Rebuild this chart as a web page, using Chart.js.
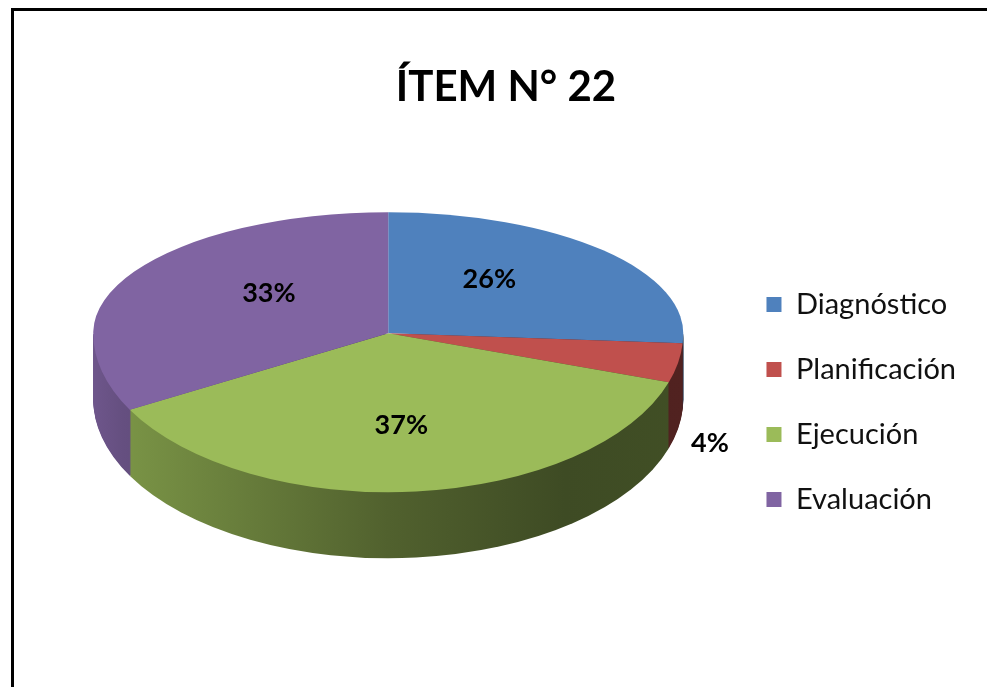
<!DOCTYPE html>
<html>
<head>
<meta charset="utf-8">
<script src="https://cdn.jsdelivr.net/npm/chart.js@4.4.1/dist/chart.umd.min.js"></script>
<style>
  html, body { margin: 0; padding: 0; background: #fff; overflow: hidden; width: 987px; height: 687px; }
  #frame { position: absolute; left: 11px; top: 8px; width: 1000px; height: 700px; border-top: 3px solid #000; border-left: 3px solid #000; }
  #wrap { position: absolute; left: 14px; top: 11px; width: 968px; height: 676px; }
</style>
</head>
<body>
<div id="frame"></div>
<div id="wrap"><canvas id="c"></canvas></div>
<script>
// ---- data ----
const titleText = 'ÍTEM N° 22';
const categories = ['Diagnóstico', 'Planificación', 'Ejecución', 'Evaluación'];
const values = [26, 4, 37, 33];
const valueLabels = ['26%', '4%', '37%', '33%'];
const colors = ['#4F81BD', '#C0504D', '#9BBB59', '#8064A2'];

// ---- 3D look (style constants) ----
const RX = 295;       // horizontal half-width of the top face
const RY_TOP = 121;   // far half height (perspective)
const RY_BOT = 159;   // near half height
const DEPTH = 66;     // thickness of the pie
const SIDE_STOPS = [[0, 0.86], [0.05, 0.79], [0.5, 0.52], [0.8, 0.40], [1, 0.42]];

function hexToRgb(h) {
  const n = parseInt(h.slice(1), 16);
  return [(n >> 16) & 255, (n >> 8) & 255, n & 255];
}
function shade(h, f) {
  const [r, g, b] = hexToRgb(h);
  return `rgb(${Math.round(r * f)},${Math.round(g * f)},${Math.round(b * f)})`;
}

const pie3d = {
  id: 'pie3d',
  beforeDatasetsDraw(chart) {
    const meta = chart.getDatasetMeta(0);
    const arcs = meta.data;
    if (!arcs.length) return false;
    const ctx = chart.ctx;
    const cx = arcs[0].x, cy = arcs[0].y, r = arcs[0].outerRadius;
    const sx = RX / r;
    const W = chart.width, H = chart.height;
    const vy = Math.round(cy);

    // side gradients (defined in the scaled user space)
    const grads = colors.map(c => {
      const g = ctx.createLinearGradient(cx - r, 0, cx + r, 0);
      SIDE_STOPS.forEach(([t, f]) => g.addColorStop(t, shade(c, f)));
      return g;
    });
    const sideArcs = arcs.map((a, i) => {
      const t = Object.create(a);
      t.options = Object.assign({}, a.options, { backgroundColor: grads[i], borderWidth: 0 });
      return t;
    });

    // sides: stack of near-half layers
    for (let d = DEPTH; d >= 1; d--) {
      ctx.save();
      ctx.beginPath();
      ctx.rect(0, vy + d, W, H);
      ctx.clip();
      ctx.translate(cx, cy + d);
      ctx.scale(sx, RY_BOT / r);
      ctx.translate(-cx, -cy);
      sideArcs.forEach(a => a.draw(ctx));
      ctx.restore();
    }

    // top face: far half and near half
    [[0, vy, RY_TOP], [vy, H, RY_BOT]].forEach(([y0, y1, ry]) => {
      ctx.save();
      ctx.beginPath();
      ctx.rect(0, y0, W, y1 - y0);
      ctx.clip();
      ctx.translate(cx, cy);
      ctx.scale(sx, ry / r);
      ctx.translate(-cx, -cy);
      arcs.forEach(a => a.draw(ctx));
      ctx.restore();
    });

    // value labels
    ctx.save();
    ctx.fillStyle = '#000';
    ctx.font = 'bold 27px Lato';
    ctx.textAlign = 'center';
    ctx.textBaseline = 'middle';
    arcs.forEach((a, i) => {
      const mid = (a.startAngle + a.endAngle) / 2;
      const c = Math.cos(mid), s = Math.sin(mid);
      let x, y;
      if (values[i] < 10) {
        x = cx + RX * c + 32;
        y = vy + RY_BOT * s + DEPTH + 15;
      } else {
        x = cx + RX * 0.47 * c;
        y = vy + (s < 0 ? RY_TOP * 0.65 : RY_BOT * 0.58) * s;
      }
      ctx.fillText(valueLabels[i], x, y);
    });
    ctx.restore();
    return false;
  }
};

new Chart(document.getElementById('c'), {
  type: 'pie',
  data: {
    labels: categories,
    datasets: [{
      data: values,
      backgroundColor: colors,
      borderWidth: 0
    }]
  },
  options: {
    responsive: true,
    maintainAspectRatio: false,
    animation: false,
    events: [],
    layout: { padding: { left: 32, right: 16, top: 0, bottom: 137 } },
    plugins: {
      title: {
        display: true,
        text: titleText,
        color: '#000',
        font: { family: 'Lato', size: 42, weight: 'bold' },
        padding: { top: 51, bottom: 4 }
      },
      legend: {
        position: 'right',
        align: 'end',
        labels: {
          color: '#111',
          font: { family: 'Lato', size: 29 },
          boxWidth: 15,
          boxHeight: 15,
          padding: 36
        }
      },
      tooltip: { enabled: false }
    }
  },
  plugins: [pie3d]
});
</script>
</body>
</html>
